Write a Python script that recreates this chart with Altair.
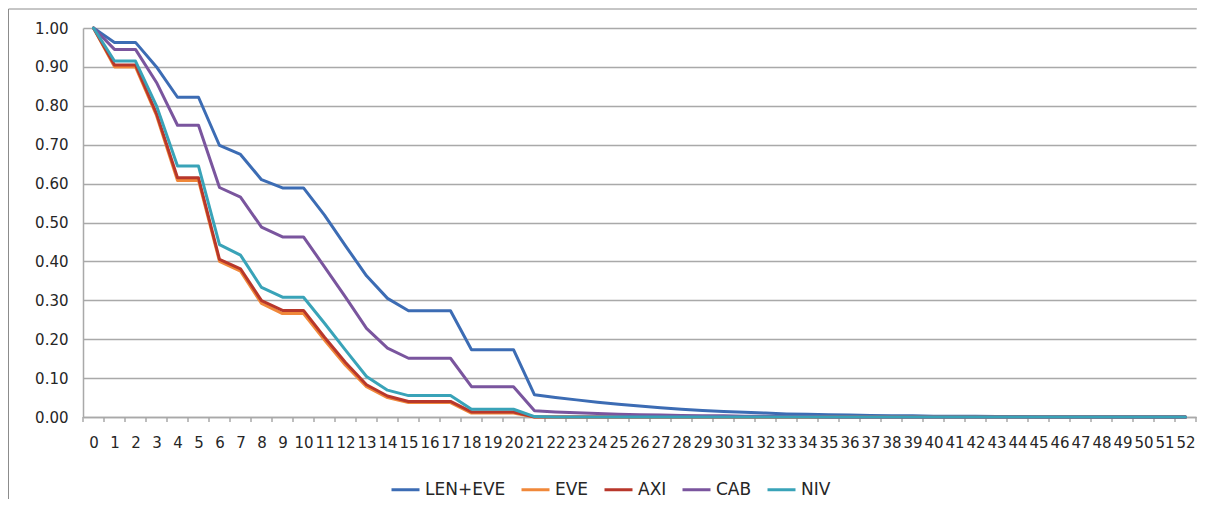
import altair as alt
import pandas as pd

categories = list(range(53))
y_ticks = [0.0, 0.1, 0.2, 0.3, 0.4, 0.5, 0.6, 0.7, 0.8, 0.9, 1.0]
series_names = ["LEN+EVE", "EVE", "AXI", "CAB", "NIV"]
series_colors = ["#3C6CB4", "#F0883A", "#B8372B", "#7A559E", "#39A3B8"]

len_eve = [1.000, 0.963, 0.963, 0.900, 0.822, 0.822, 0.698, 0.675, 0.610, 0.589,
           0.589, 0.519, 0.440, 0.363, 0.305, 0.273, 0.273, 0.273, 0.173, 0.173,
           0.173, 0.057, 0.050, 0.044, 0.038, 0.033, 0.028, 0.024, 0.020, 0.017,
           0.014, 0.012, 0.010, 0.008, 0.007, 0.006, 0.005, 0.004, 0.003, 0.003,
           0.002, 0.002, 0.002, 0.001, 0.001, 0.0, 0.0, 0.0, 0.0, 0.0,
           0.0, 0.0, 0.0]
eve = [1.000, 0.900, 0.900, 0.775, 0.608, 0.608, 0.400, 0.375, 0.292, 0.266,
       0.266, 0.198, 0.133, 0.078, 0.050, 0.037, 0.037, 0.037, 0.010, 0.010,
       0.010, 0.0, 0.0, 0.0, 0.0, 0.0, 0.0, 0.0, 0.0, 0.0,
       0.0, 0.0, 0.0, 0.0, 0.0, 0.0, 0.0, 0.0, 0.0, 0.0,
       0.0, 0.0, 0.0, 0.0, 0.0, 0.0, 0.0, 0.0, 0.0, 0.0,
       0.0, 0.0, 0.0]
axi = [1.000, 0.905, 0.905, 0.780, 0.615, 0.615, 0.405, 0.381, 0.299, 0.274,
       0.274, 0.205, 0.140, 0.083, 0.054, 0.040, 0.040, 0.040, 0.013, 0.013,
       0.013, 0.0, 0.0, 0.0, 0.0, 0.0, 0.0, 0.0, 0.0, 0.0,
       0.0, 0.0, 0.0, 0.0, 0.0, 0.0, 0.0, 0.0, 0.0, 0.0,
       0.0, 0.0, 0.0, 0.0, 0.0, 0.0, 0.0, 0.0, 0.0, 0.0,
       0.0, 0.0, 0.0]
cab = [1.000, 0.945, 0.945, 0.860, 0.750, 0.750, 0.590, 0.565, 0.488, 0.463,
       0.463, 0.386, 0.308, 0.228, 0.177, 0.151, 0.151, 0.151, 0.078, 0.078,
       0.078, 0.016, 0.013, 0.011, 0.009, 0.007, 0.006, 0.005, 0.004, 0.003,
       0.003, 0.002, 0.002, 0.001, 0.001, 0.0, 0.0, 0.0, 0.0, 0.0,
       0.0, 0.0, 0.0, 0.0, 0.0, 0.0, 0.0, 0.0, 0.0, 0.0,
       0.0, 0.0, 0.0]
niv = [1.000, 0.915, 0.915, 0.800, 0.645, 0.645, 0.443, 0.416, 0.333, 0.308,
       0.308, 0.241, 0.172, 0.104, 0.069, 0.055, 0.055, 0.055, 0.020, 0.020,
       0.020, 0.001, 0.0, 0.0, 0.0, 0.0, 0.0, 0.0, 0.0, 0.0,
       0.0, 0.0, 0.0, 0.0, 0.0, 0.0, 0.0, 0.0, 0.0, 0.0,
       0.0, 0.0, 0.0, 0.0, 0.0, 0.0, 0.0, 0.0, 0.0, 0.0,
       0.0, 0.0, 0.0]

all_values = [len_eve, eve, axi, cab, niv]
rows = []
for name, vals in zip(series_names, all_values):
    for c, v in zip(categories, vals):
        rows.append({"t": c, "value": v, "series": name})
df = pd.DataFrame(rows)

# category boundaries for Excel-style tick marks
tick_df = pd.DataFrame({"t": [c - 0.5 for c in categories] + [categories[-1] + 0.5]})

W, H = 1113, 389
GRID = "#A9A9A9"
FONT = "DejaVu Sans"

x_enc = alt.X(
    "t:Q",
    scale=alt.Scale(domain=[-0.5, 52.5], nice=False, zero=False),
    axis=alt.Axis(values=categories, title=None, ticks=False, grid=False,
                  labelPadding=18, labelFontSize=15, labelFont=FONT,
                  labelColor="#262626", domainColor=GRID, domainWidth=1.5,
                  labelFlush=False, labelOverlap=False, format="d"),
)
y_enc = alt.Y(
    "value:Q",
    scale=alt.Scale(domain=[0, 1], nice=False),
    axis=alt.Axis(values=y_ticks, format=".2f", title=None, ticks=False,
                  labelPadding=15, labelFontSize=15, labelFont=FONT,
                  labelColor="#262626", grid=True, gridColor=GRID, gridWidth=1.5,
                  domainColor=GRID, domainWidth=1.5),
)
color_enc = alt.Color(
    "series:N",
    scale=alt.Scale(domain=series_names, range=series_colors),
    legend=alt.Legend(orient="none", legendX=307, legendY=446, direction="horizontal",
                      title=None, symbolType="stroke", symbolSize=784,
                      symbolStrokeWidth=3, labelFontSize=17, labelFont=FONT,
                      labelColor="#262626", columnPadding=9, labelOffset=4,
                      padding=0),
)

border = alt.Chart(pd.DataFrame({"t": [0]})).mark_rect(
    filled=False, stroke="#8C8C8C", strokeWidth=1, clip=False
).encode(
    x=alt.value(-74.5), x2=alt.value(W + 40), y=alt.value(-19), y2=alt.value(H + 150)
)

ticks = alt.Chart(tick_df).mark_rule(color=GRID, strokeWidth=1.5).encode(
    x=x_enc, y=alt.value(H), y2=alt.value(H + 5)
)

lines = []
for name in series_names:
    lines.append(
        alt.Chart(df).transform_filter(alt.datum.series == name)
        .mark_line(strokeWidth=3, strokeJoin="round", strokeCap="round")
        .encode(x=x_enc, y=y_enc, color=color_enc)
    )

chart = alt.layer(border, ticks, *lines).properties(
    width=W, height=H,
    autosize=alt.AutoSizeParams(type="none"),
    padding={"left": 75, "top": 20, "right": 1, "bottom": 82},
).configure_view(stroke=None)

chart.save("out.html", embed_options={"renderer": "svg", "actions": False})
